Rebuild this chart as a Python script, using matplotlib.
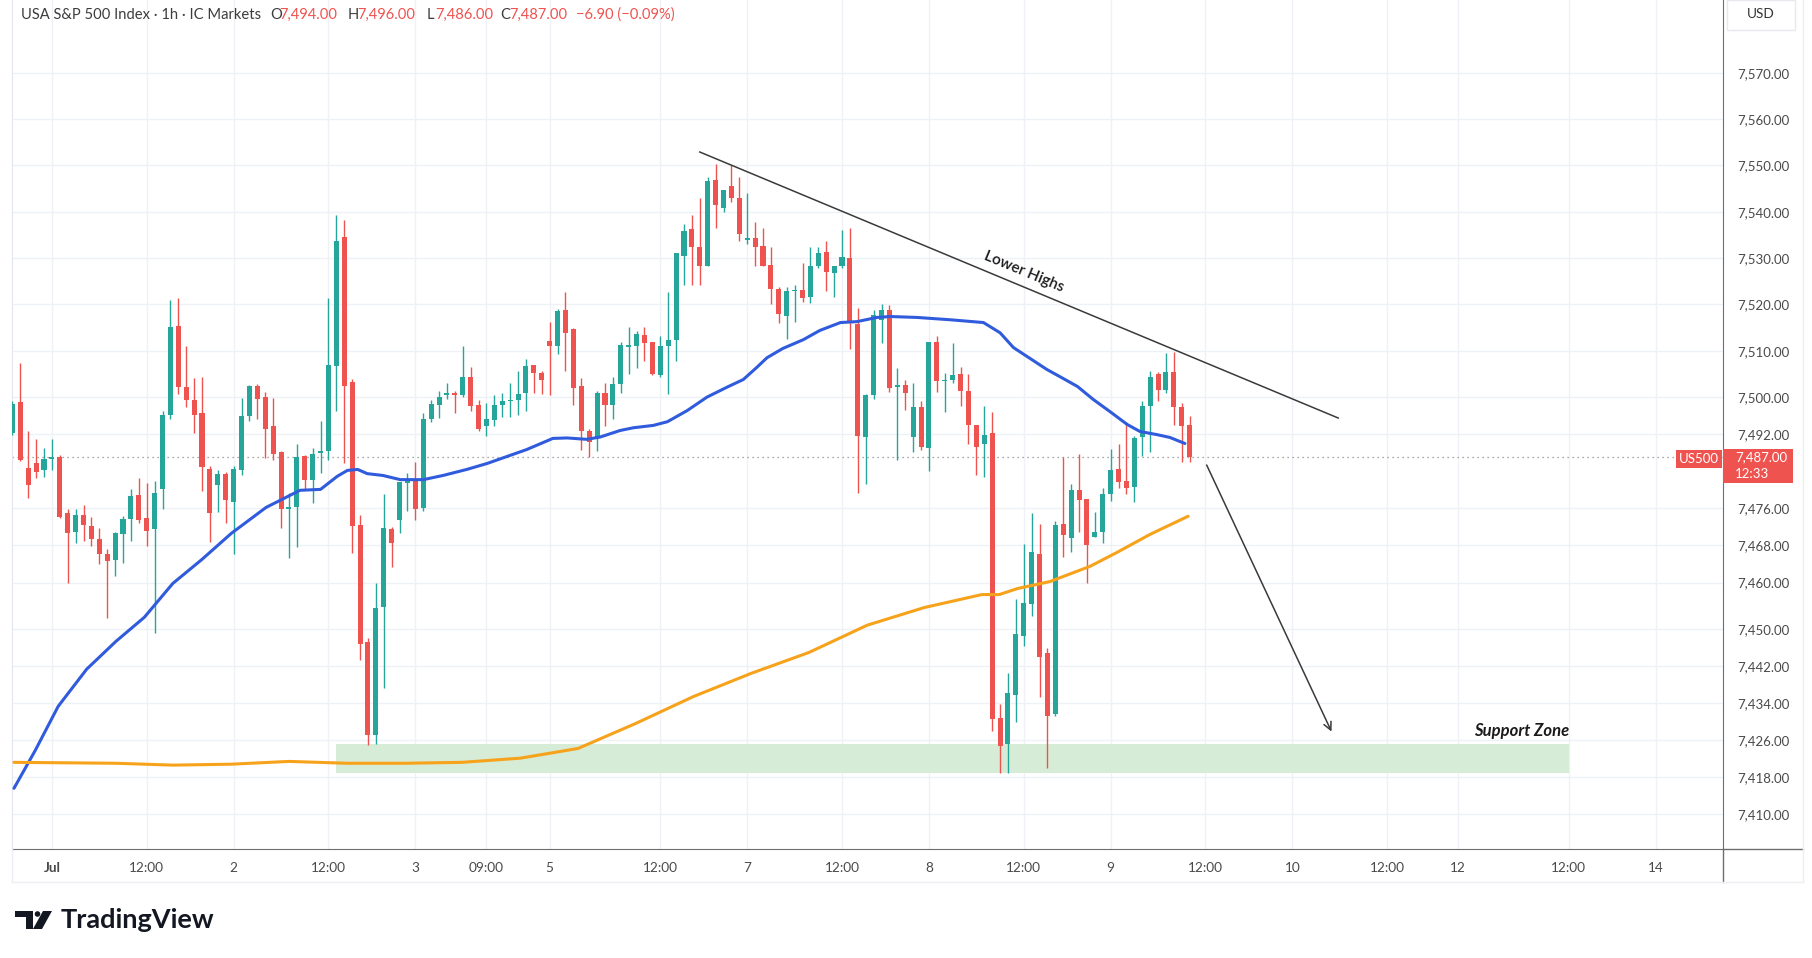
import matplotlib
matplotlib.use("Agg")
import matplotlib.pyplot as plt
from matplotlib.patches import Rectangle, Circle, Polygon
from matplotlib.lines import Line2D
import numpy as np

plt.rcParams['font.family'] = ['Lato', 'DejaVu Sans']

# hourly candles (oldest first)
opens = [7492.3, 7498.9, 7484.8, 7485.9, 7484.2, 7486.7, 7487.0, 7474.9, 7470.9, 7474.5,
         7472.3, 7469.3, 7466.1, 7464.8, 7470.5, 7473.8, 7478.8, 7474.0, 7471.6, 7480.1,
         7496.2, 7515.3, 7502.1, 7499.3, 7496.5, 7484.6, 7481.0, 7483.5, 7477.3, 7484.2,
         7496.0, 7502.5, 7500.1, 7493.7, 7488.1, 7475.8, 7476.3, 7487.3, 7482.2, 7488.0,
         7488.3, 7506.8, 7534.6, 7503.2, 7472.5, 7447.1, 7427.0, 7454.8, 7471.5, 7473.6,
         7481.4, 7482.2, 7476.0, 7495.2, 7498.4, 7500.4, 7500.8, 7500.4, 7504.4, 7498.2,
         7493.7, 7495.0, 7498.2, 7499.1, 7499.3, 7500.8, 7507.0, 7505.3, 7512.2, 7511.1,
         7518.7, 7514.8, 7502.3, 7492.8, 7491.1, 7501.0, 7498.4, 7502.9, 7510.9, 7511.1,
         7513.5, 7511.8, 7504.7, 7511.1, 7512.4, 7530.5, 7536.2, 7532.3, 7528.4, 7546.9,
         7540.9, 7545.6, 7543.0, 7534.0, 7534.4, 7532.7, 7528.6, 7523.4, 7517.6, 7522.8,
         7523.2, 7521.7, 7528.2, 7531.4, 7526.7, 7528.2, 7530.1, 7515.7, 7491.3, 7500.4,
         7516.7, 7518.7, 7502.1, 7502.7, 7491.3, 7497.8, 7489.1, 7512.0, 7503.4, 7503.6,
         7504.9, 7501.4, 7494.1, 7490.0, 7492.2, 7430.7, 7425.1, 7435.7, 7448.4, 7455.3,
         7466.1, 7444.7, 7431.6, 7472.7, 7469.7, 7479.9, 7478.1, 7469.9, 7471.0, 7479.2,
         7484.4, 7482.0, 7480.7, 7491.3, 7498.0, 7504.9, 7501.6, 7505.5, 7497.8, 7494.0]
highs = [7499.1, 7507.4, 7492.7, 7491.0, 7489.1, 7491.0, 7487.6, 7475.8, 7475.9, 7476.8,
         7474.2, 7471.8, 7467.3, 7470.9, 7474.3, 7480.2, 7482.6, 7481.4, 7481.9, 7497.1,
         7521.0, 7521.4, 7511.1, 7504.2, 7504.4, 7485.1, 7484.2, 7483.8, 7485.1, 7499.8,
         7502.7, 7502.9, 7501.1, 7499.8, 7488.3, 7479.4, 7490.0, 7487.6, 7489.1, 7494.8,
         7521.5, 7539.2, 7538.3, 7504.0, 7474.5, 7448.0, 7459.8, 7479.0, 7471.9, 7481.8,
         7483.7, 7486.1, 7496.5, 7499.3, 7501.4, 7503.1, 7501.4, 7511.1, 7506.6, 7499.3,
         7498.8, 7500.4, 7501.0, 7503.1, 7505.7, 7508.3, 7507.0, 7505.7, 7516.2, 7519.1,
         7522.6, 7515.0, 7504.2, 7493.2, 7501.4, 7503.1, 7504.4, 7512.0, 7515.1, 7514.2,
         7515.1, 7512.0, 7513.3, 7522.6, 7531.2, 7537.4, 7539.2, 7543.0, 7547.4, 7550.4,
         7544.8, 7550.2, 7547.4, 7544.1, 7537.9, 7536.6, 7532.5, 7523.8, 7523.8, 7524.1,
         7529.0, 7532.5, 7532.5, 7533.6, 7528.4, 7536.1, 7536.6, 7519.3, 7500.6, 7518.9,
         7520.2, 7519.8, 7506.2, 7503.8, 7503.1, 7499.1, 7512.0, 7513.1, 7505.3, 7511.6,
         7506.4, 7505.1, 7494.1, 7498.0, 7496.9, 7433.7, 7440.4, 7456.4, 7468.4, 7475.1,
         7472.7, 7445.8, 7473.2, 7487.0, 7481.2, 7487.8, 7478.1, 7475.3, 7480.5, 7488.9,
         7490.0, 7494.7, 7491.7, 7499.1, 7505.7, 7505.5, 7509.6, 7509.8, 7498.8, 7496.0]
lows = [7491.9, 7486.2, 7478.3, 7482.6, 7482.8, 7484.2, 7474.0, 7459.8, 7468.6, 7468.9,
        7467.9, 7464.1, 7452.4, 7461.5, 7464.3, 7468.9, 7472.9, 7467.9, 7449.2, 7475.9,
        7495.3, 7500.6, 7497.9, 7492.2, 7479.7, 7468.7, 7475.3, 7472.9, 7466.1, 7483.3,
        7494.8, 7495.2, 7486.9, 7486.5, 7471.8, 7465.4, 7467.7, 7479.9, 7477.2, 7483.7,
        7486.5, 7497.1, 7485.7, 7466.3, 7443.2, 7424.9, 7425.1, 7437.2, 7463.3, 7470.6,
        7475.5, 7473.4, 7475.5, 7494.7, 7495.6, 7499.5, 7496.5, 7500.1, 7497.1, 7492.6,
        7491.7, 7493.7, 7495.8, 7495.8, 7496.2, 7497.1, 7501.0, 7500.6, 7500.4, 7509.4,
        7505.7, 7498.4, 7488.7, 7487.0, 7488.3, 7493.7, 7495.2, 7501.0, 7504.9, 7506.2,
        7507.9, 7504.7, 7504.3, 7500.6, 7507.9, 7524.1, 7524.3, 7524.3, 7528.4, 7536.6,
        7540.0, 7542.2, 7533.6, 7533.1, 7528.2, 7528.2, 7520.2, 7516.1, 7512.6, 7516.3,
        7520.6, 7520.4, 7527.9, 7522.8, 7521.7, 7527.9, 7510.3, 7479.4, 7481.2, 7499.5,
        7511.6, 7501.2, 7486.5, 7497.3, 7488.1, 7488.7, 7484.0, 7501.2, 7496.7, 7503.1,
        7498.0, 7489.8, 7483.3, 7482.7, 7427.9, 7419.0, 7419.0, 7429.8, 7446.2, 7452.7,
        7435.2, 7419.9, 7431.3, 7465.6, 7466.5, 7470.8, 7459.8, 7469.9, 7468.6, 7477.7,
        7480.5, 7479.2, 7477.3, 7487.2, 7488.1, 7499.1, 7501.0, 7494.1, 7486.1, 7486.0]
closes = [7498.6, 7486.5, 7481.0, 7483.8, 7486.7, 7487.0, 7474.2, 7470.7, 7474.5, 7472.4,
          7469.3, 7466.1, 7464.6, 7470.7, 7473.8, 7478.6, 7473.6, 7471.1, 7479.4, 7496.2,
          7515.1, 7502.1, 7499.3, 7496.1, 7484.9, 7475.1, 7483.5, 7477.9, 7484.4, 7496.0,
          7502.4, 7499.5, 7493.2, 7487.8, 7475.8, 7476.3, 7487.1, 7482.1, 7487.8, 7488.3,
          7507.0, 7533.8, 7502.5, 7472.1, 7446.7, 7427.0, 7454.4, 7471.7, 7468.6, 7481.6,
          7482.2, 7475.8, 7495.2, 7498.6, 7500.1, 7500.8, 7500.4, 7504.4, 7498.0, 7493.2,
          7495.2, 7498.4, 7499.1, 7499.3, 7500.6, 7506.8, 7505.3, 7503.8, 7511.1, 7518.5,
          7513.9, 7501.9, 7492.8, 7490.4, 7500.8, 7498.2, 7502.9, 7511.3, 7511.3, 7513.7,
          7511.6, 7505.1, 7511.1, 7512.4, 7531.0, 7535.9, 7532.4, 7528.4, 7546.6, 7541.5,
          7544.8, 7543.0, 7535.1, 7534.3, 7532.5, 7528.2, 7523.4, 7518.0, 7522.8, 7522.9,
          7521.5, 7528.2, 7531.2, 7526.9, 7528.2, 7530.3, 7515.9, 7491.7, 7500.4, 7517.8,
          7518.7, 7501.9, 7502.7, 7501.0, 7497.8, 7489.3, 7512.0, 7503.4, 7503.6, 7504.7,
          7501.4, 7493.9, 7489.3, 7491.9, 7430.5, 7424.7, 7436.1, 7448.8, 7455.5, 7466.5,
          7443.9, 7431.1, 7472.5, 7470.2, 7479.9, 7477.9, 7468.0, 7471.0, 7479.2, 7484.2,
          7481.8, 7480.5, 7491.1, 7498.0, 7504.4, 7501.6, 7505.5, 7497.8, 7493.7, 7487.0]

# moving averages, sampled at bar positions
blue_x = [0.2, 2.9, 5.8, 9.4, 13.1, 16.7, 20.3, 24.0, 27.7, 32.1, 36.4, 39.0, 41.1, 42.4,
          43.7, 44.9, 46.9, 49.1, 52.0, 54.5, 57.5, 60.1, 62.6, 65.1, 68.4, 70.2, 72.7,
          74.4, 76.9, 78.6, 81.1, 82.9, 85.4, 87.9, 90.5, 92.5, 94.2, 95.5, 97.5, 100.1,
          102.2, 104.8, 106.9, 109.4, 111.1, 114.5, 118.7, 122.9, 125.0, 126.7, 130.9,
          132.6, 134.8, 136.8, 138.9, 141.1, 142.7, 144.9, 146.5, 148.4]
blue_y = [7415.6, 7423.8, 7433.3, 7441.3, 7447.3, 7452.5, 7459.8, 7465.0, 7470.6, 7476.2,
          7479.9, 7480.1, 7482.9, 7484.2, 7484.4, 7483.5, 7483.1, 7482.2, 7482.2, 7483.1,
          7484.4, 7485.7, 7487.2, 7488.7, 7491.1, 7491.2, 7490.9, 7491.4, 7492.8, 7493.4,
          7493.9, 7494.7, 7497.1, 7500.0, 7502.2, 7503.8, 7506.4, 7508.5, 7510.5, 7512.4,
          7514.4, 7516.1, 7516.3, 7517.2, 7517.4, 7517.2, 7516.7, 7516.1, 7513.9, 7510.7,
          7506.0, 7504.4, 7502.3, 7499.5, 7496.9, 7494.1, 7492.6, 7491.9, 7491.3, 7490.0]
orange_x = [0.2, 13.1, 20.3, 27.7, 35.0, 42.4, 49.6, 56.9, 64.3, 71.6, 78.9, 86.2, 93.5,
            100.8, 108.2, 115.4, 122.7, 124.9, 127.2, 131.3, 136.4, 139.8, 144.0, 148.8]
orange_y = [7421.2, 7421.0, 7420.6, 7420.8, 7421.4, 7421.0, 7421.0, 7421.2, 7422.1, 7424.2,
            7429.6, 7435.4, 7440.4, 7444.9, 7450.8, 7454.6, 7457.4, 7457.4, 7458.7, 7460.2,
            7463.5, 7466.5, 7470.4, 7474.3]

price_ticks = [7410, 7418, 7426, 7434, 7442, 7450, 7460, 7468, 7476, 7492, 7500, 7510,
               7520, 7530, 7540, 7550, 7560, 7570]
time_pos = [5, 17, 28, 40, 51, 60, 68, 82, 93, 105, 116, 128, 139, 151, 162, 174, 183, 197, 208]
time_labels = ['Jul', '12:00', '2', '12:00', '3', '09:00', '5', '12:00', '7', '12:00', '8',
               '12:00', '9', '12:00', '10', '12:00', '12', '12:00', '14']

last_price = 7487.0
trend_x = [87.0, 167.8]
trend_y = [7552.9, 7495.5]
arrow_from = (151.0, 7485.9)
arrow_to = (167.1, 7427.3)
zone_x = (41, 197)
zone_y = (7418.8, 7425.1)

W, H = 1812, 958
def fx(px):
    return px / W
def fy(py):
    return 1 - py / H

GREEN = '#26a69a'
RED = '#ef5350'
TXT = '#4a4a4a'

fig = plt.figure(figsize=(W / 100, H / 100), dpi=100)
ax = fig.add_axes([fx(12), fy(849), fx(1723) - fx(12), fy(0) - fy(849)])
ax.set_xlim(-0.05, 216.5)
ax.set_ylim(7402.5, 7585.7)

o = np.array(opens); c = np.array(closes)
idx = np.arange(len(o))
cols = [GREEN if c[i] >= o[i] else RED for i in idx]
ax.vlines(idx, lows, highs, colors=cols, lw=1.0, zorder=3)
body_lo = np.minimum(o, c)
body_h = np.maximum(np.abs(c - o), 0.35)
ax.bar(idx, body_h, bottom=body_lo, width=0.64, color=cols, lw=0, zorder=3)

ax.plot(blue_x, blue_y, color='#2f5bdc', lw=2.2, zorder=4, solid_capstyle='round')
ax.plot(orange_x, orange_y, color='#f7a21b', lw=2.2, zorder=4, solid_capstyle='round')

# support zone
ax.add_patch(Rectangle((zone_x[0], zone_y[0]), zone_x[1] - zone_x[0], zone_y[1] - zone_y[0],
                       fc='#d6ecd7', ec='none', zorder=1))
ax.text(zone_x[1], zone_y[1] + 1.2, 'Support Zone', ha='right', va='bottom',
        fontsize=12, fontstyle='italic', fontweight='bold', color='#1a1a1a', zorder=5)

# lower highs line
ax.plot(trend_x, trend_y, color='#3a3a3a', lw=1.1, zorder=5)
ax.text(128, 7527.0, 'Lower Highs', rotation=-22.6, rotation_mode='anchor',
        ha='center', va='center', fontsize=11, fontweight='semibold', color='#1a1a1a', zorder=5)
ax.annotate('', xy=arrow_to, xytext=arrow_from,
            arrowprops=dict(arrowstyle='->', color='#3a3a3a', lw=1.1, mutation_scale=14),
            zorder=5)

ax.axhline(last_price, color='#8a8a8a', lw=0.9, ls=(0, (1, 3)), zorder=2)

# axes cosmetics
ax.set_yticks(price_ticks)
ax.set_yticklabels(['{:,.2f}'.format(v) for v in price_ticks])
ax.set_xticks(time_pos)
ax.set_xticklabels(time_labels)
ax.yaxis.tick_right()
ax.tick_params(axis='y', length=0, pad=10, labelsize=9.5, labelcolor=TXT)
ax.tick_params(axis='x', length=0, pad=9, labelsize=9.8, labelcolor=TXT)
ax.get_xticklabels()[0].set_fontweight('bold')
ax.grid(True, color='#eef1f5', lw=1.0, zorder=0)
ax.set_axisbelow(True)
ax.spines['top'].set_visible(False)
ax.spines['left'].set_color('#e3e6ec')
ax.spines['right'].set_color('#6e6e6e')
ax.spines['bottom'].set_color('#6e6e6e')

fig.add_artist(Line2D([fx(1723), fx(1723)], [fy(849), fy(882)], color='#6e6e6e', lw=1))
fig.add_artist(Line2D([fx(1723), fx(1803)], [fy(849), fy(849)], color='#6e6e6e', lw=1))
fig.add_artist(Line2D([fx(12), fx(1803)], [fy(882), fy(882)], color='#eceff3', lw=1))
fig.add_artist(Line2D([fx(12), fx(12)], [fy(849), fy(882)], color='#eceff3', lw=1))
fig.add_artist(Line2D([fx(1803), fx(1803)], [fy(0), fy(882)], color='#eceff3', lw=1))

# header
fig.text(fx(21), fy(15), 'USA S&P 500 Index · 1h · IC Markets', va='center',
         fontsize=10.6, color='#3c3c3c')
for px, s, col in [(270, 'O', '#3c3c3c'), (279, '7,494.00', RED), (348, 'H', '#3c3c3c'),
                   (357, '7,496.00', RED), (427, 'L', '#3c3c3c'), (435, '7,486.00', RED),
                   (500, 'C', '#3c3c3c'), (509, '7,487.00', RED), (576, '\u22126.90 (\u22120.09%)', RED)]:
    fig.text(fx(px), fy(15), s, va='center', fontsize=10.6, color=col)

# price scale extras
fig.add_artist(Rectangle((fx(1727), fy(30)), (1795 - 1727) / W, 30 / H,
                         fc='white', ec='#e6e9ee', lw=1))
fig.text(fx(1761), fy(14), 'USD', ha='center', va='center', fontsize=9.8, color='#333333')
fig.add_artist(Rectangle((fx(1723), fy(483)), 70 / W, 34 / H, fc=RED, ec='none'))
fig.text(fx(1735), fy(457), '{:,.2f}'.format(last_price), va='center', fontsize=9.5, color='white')
fig.text(fx(1735), fy(474), '12:33', va='center', fontsize=9.5, color='white')
fig.add_artist(Rectangle((fx(1676), fy(468)), 46 / W, 18 / H, fc=RED, ec='none'))
fig.text(fx(1699), fy(459), 'US500', ha='center', va='center', fontsize=9.5, color='white')

# TradingView logo
lax = fig.add_axes([fx(15), fy(930), 38 / W, 19 / H])
lax.set_xlim(0, 38)
lax.set_ylim(19, 0)
lax.axis('off')
lax.add_patch(Rectangle((0, 0), 18, 6, fc='#131722', ec='none'))
lax.add_patch(Rectangle((11, 0), 7, 18, fc='#131722', ec='none'))
lax.add_patch(Circle((22.5, 3), 2.8, fc='#131722', ec='none'))
lax.add_patch(Polygon([[28, 0], [37, 0], [27, 18], [18, 18]], fc='#131722', ec='none'))
fig.text(fx(61), fy(920), 'TradingView', va='center', fontsize=19.5, fontweight='bold',
         color='#131722')

fig.savefig('out.png', dpi=100, facecolor='white')
